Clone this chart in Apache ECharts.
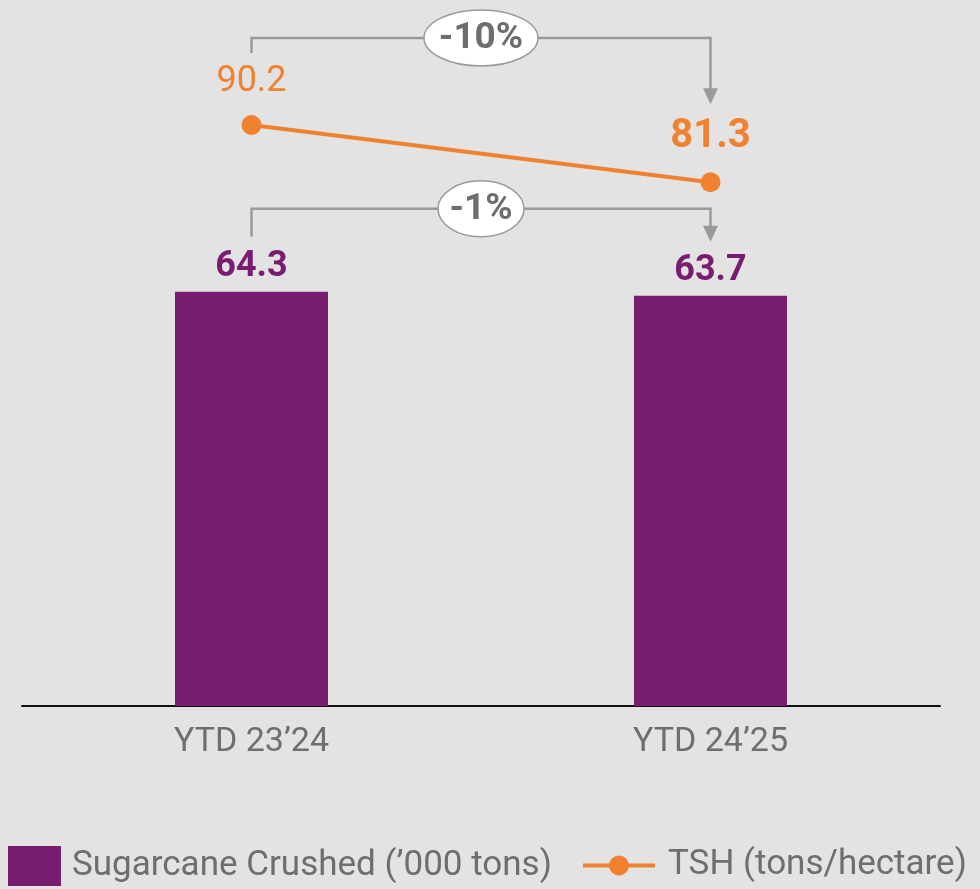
<!DOCTYPE html>
<html>
<head>
<meta charset="utf-8">
<script src="https://cdn.jsdelivr.net/npm/echarts@6/dist/echarts.min.js"></script>
<style>
html,body{margin:0;padding:0;background:#e3e3e3;}
#chart{width:980px;height:889px;}
</style>
</head>
<body>
<div id="chart"></div>
<script>
const categories = ['YTD 23\u201924', 'YTD 24\u201925'];
const crushed = [64.3, 63.7];
const tsh = [90.2, 81.3];
const seriesNames = ['Sugarcane Crushed (\u2019000 tons)', 'TSH (tons/hectare)'];

const PURPLE = '#781d6f';
const ORANGE = '#f0812f';
const GRAY_LINE = '#9a9a9a';
const GRAY_TEXT = '#6e6e6e';
const FONT = 'Roboto';

const lineLabelStyles = [
  { fontWeight: 'normal', fontSize: 36 },
  { fontWeight: 'bold', fontSize: 40 }
];

function makeBracket(vals, cfg) {
  return {
    type: 'custom',
    silent: true,
    z: 10,
    clip: false,
    encode: { x: [0, 2], y: [1, 3] },
    data: [[0, vals[0], 1, vals[1]]],
    renderItem: function (params, api) {
      const p0 = api.coord([api.value(0), api.value(1)]);
      const p1 = api.coord([api.value(2), api.value(3)]);
      const x0 = p0[0], x1 = p1[0];
      const yl = Math.min(p0[1], p1[1]) - cfg.levelOff;
      const yStart = p0[1] - cfg.leftOff;
      const tip = p1[1] - cfg.tipOff;
      const headH = 16, headW = 15;
      const cx = (x0 + x1) / 2;
      const pct = Math.round((api.value(3) / api.value(1) - 1) * 100) + '%';
      return {
        type: 'group',
        children: [
          { type: 'polyline', shape: { points: [[x0, yStart], [x0, yl], [x1, yl], [x1, tip - headH + 1]] },
            style: { stroke: GRAY_LINE, lineWidth: 2.5, fill: null } },
          { type: 'polygon', shape: { points: [[x1 - headW / 2, tip - headH], [x1 + headW / 2, tip - headH], [x1, tip]] },
            style: { fill: GRAY_LINE } },
          { type: 'ellipse', shape: { cx: cx, cy: yl, rx: cfg.rx, ry: 28 },
            style: { fill: '#ffffff', stroke: GRAY_LINE, lineWidth: 1.5 } },
          { type: 'text', style: { text: pct, x: cx, y: yl + 1, align: 'center', verticalAlign: 'middle',
            fontSize: 37, fontWeight: 'bold', fontFamily: FONT, fill: GRAY_TEXT } }
        ]
      };
    }
  };
}

const chart = echarts.init(document.getElementById('chart'));
chart.setOption({
  backgroundColor: '#e3e3e3',
  animation: false,
  grid: { left: 22, right: 40, top: 0, bottom: 183, containLabel: false },
  xAxis: {
    type: 'category',
    data: categories,
    axisLine: { show: true, lineStyle: { color: '#111', width: 2 } },
    axisTick: { show: false },
    axisLabel: { color: GRAY_TEXT, fontSize: 34, fontFamily: FONT, margin: 19 }
  },
  yAxis: {
    type: 'value', min: 0, max: 109.6, show: false, splitLine: { show: false }
  },
  legend: [
    {
      data: [seriesNames[0]],
      left: 8, top: 846, padding: 0,
      itemWidth: 53, itemHeight: 40,
      icon: 'rect',
      textStyle: { color: GRAY_TEXT, fontSize: 35, fontFamily: FONT, padding: [0, 0, 0, 6] }
    },
    {
      data: [seriesNames[1]],
      left: 581, top: 848, padding: 0,
      itemWidth: 72, itemHeight: 25,
      lineStyle: { width: 4, color: ORANGE },
      textStyle: { color: GRAY_TEXT, fontSize: 35, fontFamily: FONT, padding: [0, 0, 0, 8] }
    }
  ],
  series: [
    {
      name: seriesNames[0],
      type: 'bar',
      data: crushed,
      barWidth: 153,
      itemStyle: { color: PURPLE },
      label: { show: true, position: 'top', distance: 7, color: PURPLE, fontSize: 36,
        fontWeight: 'bold', fontFamily: FONT }
    },
    {
      name: seriesNames[1],
      type: 'line',
      data: tsh.map((v, i) => ({ value: v, label: lineLabelStyles[i] })),
      symbol: 'circle',
      symbolSize: 20,
      lineStyle: { color: ORANGE, width: 4 },
      itemStyle: { color: ORANGE },
      label: { show: true, position: 'top', distance: 15, color: ORANGE, fontFamily: FONT },
      z: 5
    },
    makeBracket(tsh, { levelOff: 87, leftOff: 72, tipOff: 78, rx: 57 }),
    makeBracket(crushed, { levelOff: 83, leftOff: 55, tipOff: 54, rx: 43 })
  ]
});
</script>
</body>
</html>
